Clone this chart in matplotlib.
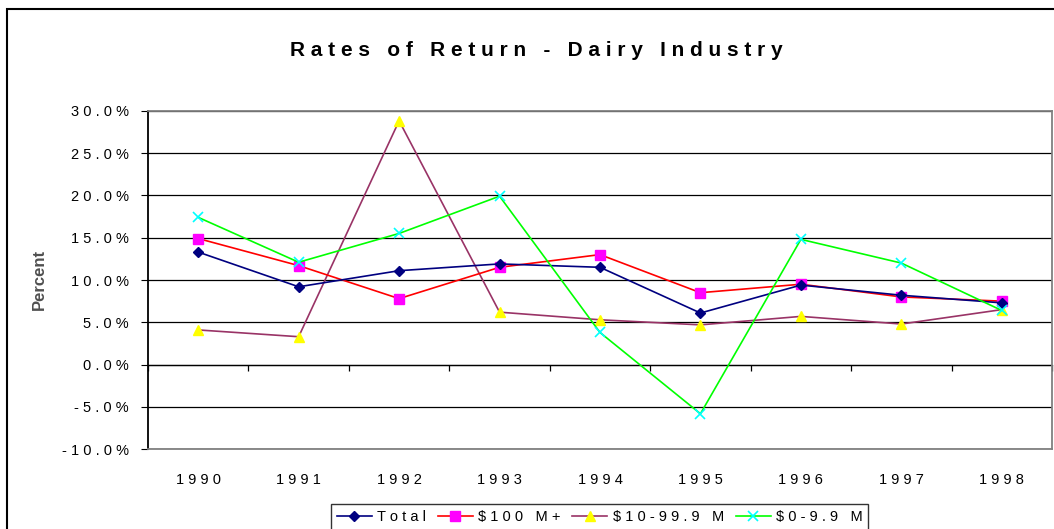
import matplotlib
matplotlib.use("Agg")
import matplotlib.pyplot as plt
from matplotlib.patches import Rectangle
from matplotlib.ticker import FuncFormatter, FixedLocator

plt.rcParams['font.family'] = ['Liberation Sans', 'DejaVu Sans']

years = ['1990', '1991', '1992', '1993', '1994', '1995', '1996', '1997', '1998']
total = [13.3, 9.2, 11.1, 11.9, 11.5, 6.1, 9.4, 8.2, 7.3]
over_100m = [14.9, 11.7, 7.8, 11.5, 13.0, 8.5, 9.5, 8.0, 7.5]
from_10m = [4.1, 3.3, 28.8, 6.2, 5.3, 4.7, 5.7, 4.8, 6.5]
under_10m = [17.4, 12.1, 15.5, 19.9, 3.8, -5.8, 14.8, 12.0, 6.4]
labels = ['Total', '$100 M+', '$10-99.9 M', '$0-9.9 M']


def spread(s):
    # old excel look: wide letter spacing
    return ' '.join(s)


W, H = 1054, 529
fig = plt.figure(figsize=(W / 100, H / 100), dpi=100)

# chart border (runs off the right and bottom of the picture)
fig.add_artist(Rectangle((7 / W, -0.1), 1.2, 1.1 - 9 / H, transform=fig.transFigure,
                         fill=False, edgecolor='black', linewidth=1.5, clip_on=False))

ax = fig.add_axes([148 / W, 1 - 449.3 / H, 904 / W, 338.6 / H])
x = list(range(len(years)))

ax.plot(x, total, color='#000080', lw=1.2, marker='D', ms=5.3, mfc='#000080', mec='#000080',
        label=spread(labels[0]), zorder=5)
ax.plot(x, over_100m, color='#FF0000', lw=1.2, marker='s', ms=6.8, mfc='#FF00FF', mec='#FF00FF',
        label=spread(labels[1]), zorder=4)
ax.plot(x, from_10m, color='#993366', lw=1.2, marker='^', ms=7.5, mfc='#FFFF00', mec='#FFFF00',
        label=spread(labels[2]), zorder=3)
ax.plot(x, under_10m, color='#00FF00', lw=1.2, marker='x', ms=7, mew=1.2, mec='#00FFFF',
        label=spread(labels[3]), zorder=6)

ax.set_xlim(-0.5, len(years) - 0.5)
ax.set_ylim(-10, 30)
ax.set_yticks(range(-10, 31, 5))
ax.yaxis.set_major_formatter(FuncFormatter(lambda v, p: spread(f'{v:.1f}%')))
ax.tick_params(axis='y', direction='out', length=5, width=0.8, pad=9, labelsize=10.5)
ax.set_xticks(x)
ax.set_xticklabels([spread(y) for y in years])
ax.tick_params(axis='x', length=0, pad=17, labelsize=10.5)

ax.grid(axis='y', color='black', lw=0.9)
ax.set_axisbelow(True)
for side in ['top', 'right', 'bottom']:
    ax.spines[side].set_color('#808080')
    ax.spines[side].set_linewidth(1.3)
ax.spines['left'].set_linewidth(1.3)

# zero line with category separators
zero = ax.secondary_xaxis(0.25)
zero.xaxis.set_major_locator(FixedLocator([i - 0.5 for i in range(len(years) + 1)]))
zero.tick_params(direction='out', length=4, width=0.9, labelbottom=False)
zero.spines['bottom'].set_linewidth(0.9)

fig.text(39 / W, 1 - 279 / H, 'Percent', rotation=90, ha='center', va='center',
         fontsize=12, fontweight='bold', color='#505050')

fig.text(536 / W, 1 - 50 / H, spread('Rates of Return - Dairy Industry'), ha='center', va='center',
         fontsize=15, fontweight='bold')

leg = fig.legend(loc='upper left', bbox_to_anchor=(331 / W, 1 - 504 / H), ncol=4, fontsize=10.5,
                 frameon=True, fancybox=False, edgecolor='black', handlelength=2.4,
                 handletextpad=0.35, columnspacing=0.82, borderpad=0.4, borderaxespad=0)
leg.get_frame().set_linewidth(1.0)

fig.savefig('out.png', dpi=100)
